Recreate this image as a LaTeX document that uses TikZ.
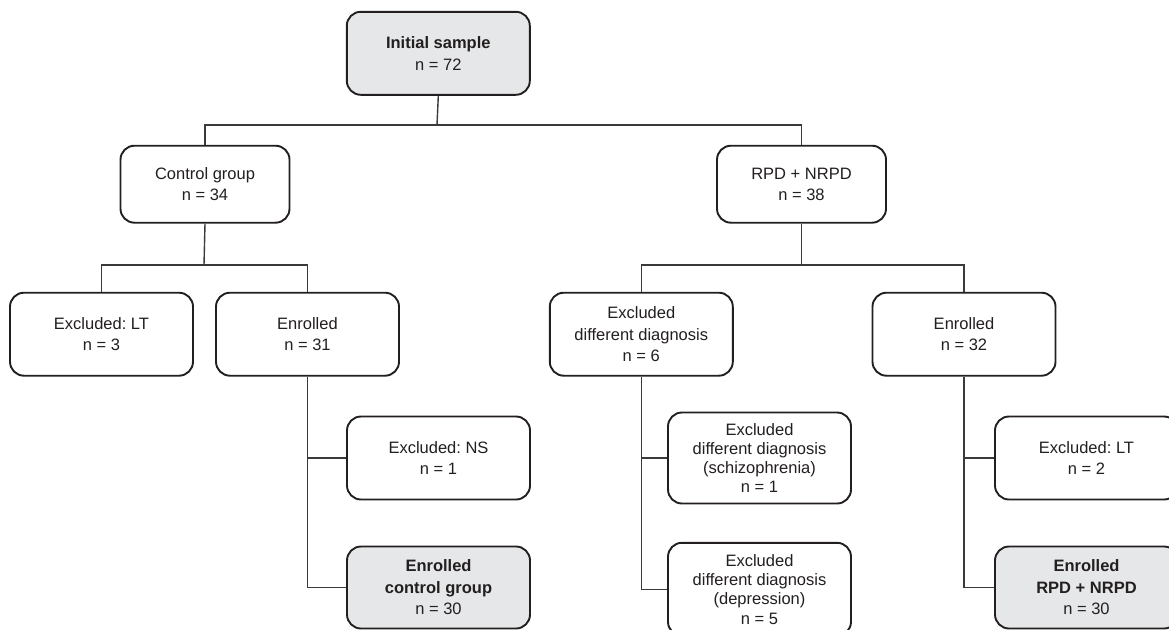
\documentclass[tikz,border=0pt]{standalone}
\usepackage{fontspec}
\setmainfont{Liberation Sans}
\frenchspacing
\definecolor{ink}{HTML}{231F20}
\definecolor{lineC}{HTML}{3A3A3A}
\definecolor{fillG}{HTML}{E6E7E8}
\begin{document}
\begin{tikzpicture}[x=1pt,y=-1pt,
  bx/.style={draw=ink,line width=1.9pt,rounded corners=14pt,fill=white,
    align=center,text=ink,inner sep=0pt,
    font=\fontsize{16.5}{21.5}\selectfont\frenchspacing},
  gbx/.style={bx,fill=fillG},
  conn/.style={draw=lineC,line width=1.4pt}]
\useasboundingbox (0,0) rectangle (1169,629);
\clip (0,0) rectangle (1169,629);
% nodes
\node[gbx,minimum width=183pt,minimum height=83pt] (init) at (438.3,53.3) {\textbf{Initial sample}\\n = 72};
\node[bx,minimum width=169pt,minimum height=77pt] (ctrl) at (205,184.2) {Control group\\n = 34};
\node[bx,minimum width=169pt,minimum height=77pt] (rpd) at (801.5,184.2) {RPD + NRPD\\n = 38};
\node[bx,minimum width=183pt,minimum height=83pt] (exlt) at (101.5,334.2) {Excluded: LT\\n = 3};
\node[bx,minimum width=183pt,minimum height=83pt] (enr1) at (307.5,334.2) {Enrolled\\n = 31};
\node[bx,minimum width=183pt,minimum height=83pt] (exdd) at (641.3,334.2) {Excluded\\different diagnosis\\n = 6};
\node[bx,minimum width=183pt,minimum height=83pt] (enr2) at (964,334.2) {Enrolled\\n = 32};
\node[bx,minimum width=183pt,minimum height=83pt] (exns) at (438.5,458) {Excluded: NS\\n = 1};
\node[gbx,minimum width=183pt,minimum height=82pt] (enrc) at (438.5,587.5) {\textbf{Enrolled}\\\textbf{control group}\\n = 30};
\node[bx,minimum width=183pt,minimum height=91pt,font=\fontsize{16.5}{19}\selectfont\frenchspacing] (schiz) at (759.5,458) {Excluded\\different diagnosis\\(schizophrenia)\\n = 1};
\node[bx,minimum width=183pt,minimum height=93pt,font=\fontsize{16.5}{19.3}\selectfont\frenchspacing] (depr) at (759.5,589.3) {Excluded\\different diagnosis\\(depression)\\n = 5};
\node[bx,minimum width=183pt,minimum height=83pt] (exlt2) at (1086.5,458) {Excluded: LT\\n = 2};
\node[gbx,minimum width=183pt,minimum height=82pt] (enrr) at (1086.5,587.5) {\textbf{Enrolled}\\\textbf{RPD + NRPD}\\n = 30};
% junction coordinates
\coordinate (j0) at (437,125);
\coordinate (j1) at (204,265);
\coordinate (j2) at (801.5,265);
% connectors
\draw[conn] (init.south) -- (j0);
\draw[conn] (j0) -| (ctrl.north);
\draw[conn] (j0) -| (rpd.north);
\draw[conn] (ctrl.south) -- (j1);
\draw[conn] (j1) -| (exlt.north);
\draw[conn] (j1) -| (enr1.north);
\draw[conn] (rpd.south) -- (j2);
\draw[conn] (j2) -| (exdd.north);
\draw[conn] (j2) -| (enr2.north);
\draw[conn] (enr1.south) |- (exns.west);
\draw[conn] (enr1.south) |- (enrc.west);
\draw[conn] (exdd.south) |- (schiz.west);
\draw[conn] (exdd.south) |- (depr.west);
\draw[conn] (enr2.south) |- (exlt2.west);
\draw[conn] (enr2.south) |- (enrr.west);
\end{tikzpicture}
\end{document}
